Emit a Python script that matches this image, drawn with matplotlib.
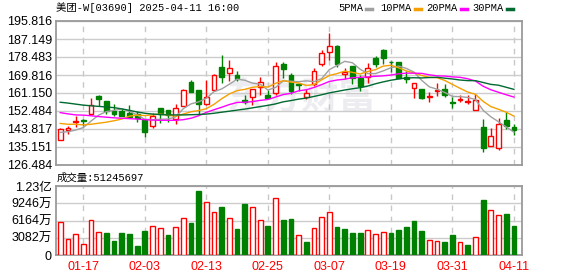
import matplotlib
matplotlib.use('Agg')
import matplotlib.pyplot as plt
from matplotlib.lines import Line2D
import numpy as np

plt.rcParams['font.family'] = ['Liberation Sans', 'Noto Sans CJK SC']

dates = ['01-14', '01-15', '01-16', '01-17', '01-20', '01-21', '01-22', '01-23', '01-24', '01-27',
         '01-28', '02-03', '02-04', '02-05', '02-06', '02-07', '02-10', '02-11', '02-12', '02-13',
         '02-14', '02-17', '02-18', '02-19', '02-20', '02-21', '02-24', '02-25', '02-26', '02-27',
         '02-28', '03-03', '03-04', '03-05', '03-06', '03-07', '03-10', '03-11', '03-12', '03-13',
         '03-14', '03-17', '03-18', '03-19', '03-20', '03-21', '03-24', '03-25', '03-26', '03-27',
         '03-28', '03-31', '04-01', '04-02', '04-03', '04-07', '04-08', '04-09', '04-10', '04-11']

opens = [138.7, 143.4, 147.0, 148.0, 151.2, 159.9, 157.3, 152.5, 152.7, 151.7,
         151.2, 148.1, 145.3, 153.8, 153.0, 148.5, 155.0, 166.3, 162.4, 155.7,
         162.4, 173.8, 170.6, 169.8, 157.6, 159.1, 163.9, 160.2, 161.3, 175.3,
         169.8, 165.5, 159.1, 165.3, 174.9, 180.7, 183.9, 170.5, 174.3, 168.5,
         169.0, 177.8, 181.9, 176.2, 175.9, 169.0, 163.4, 163.1, 159.4, 162.1,
         163.1, 156.6, 157.6, 157.0, 152.8, 144.8, 135.8, 134.8, 148.1, 144.6]
highs = [144.3, 145.3, 150.1, 148.8, 158.6, 160.2, 157.5, 155.8, 153.3, 155.4,
         152.3, 148.3, 151.7, 153.8, 153.0, 155.7, 163.1, 167.2, 162.4, 167.2,
         170.5, 179.4, 177.0, 171.7, 160.2, 163.1, 169.0, 162.6, 176.2, 176.2,
         170.9, 165.8, 163.1, 173.0, 182.0, 190.2, 184.3, 173.0, 174.3, 169.8,
         175.4, 179.1, 182.3, 176.6, 176.0, 171.7, 166.0, 163.1, 161.5, 165.8,
         165.5, 159.2, 160.2, 160.2, 160.8, 148.6, 144.1, 149.0, 151.8, 146.2]
lows = [138.3, 141.6, 144.8, 145.3, 150.7, 155.0, 151.2, 150.1, 149.9, 149.4,
        147.0, 139.9, 144.5, 146.9, 147.0, 146.1, 154.7, 161.5, 151.2, 155.4,
        162.1, 166.1, 167.1, 167.0, 155.7, 155.4, 160.2, 158.6, 160.2, 168.2,
        160.8, 162.1, 158.3, 164.7, 174.3, 177.0, 173.5, 167.7, 165.3, 162.1,
        166.0, 173.8, 174.9, 171.5, 168.2, 165.8, 158.9, 158.3, 157.0, 159.9,
        159.4, 154.1, 156.6, 155.7, 152.8, 132.6, 135.8, 133.7, 143.8, 140.9]
closes = [144.0, 144.1, 147.6, 147.7, 155.2, 158.4, 152.5, 151.0, 150.2, 149.7,
          149.0, 142.5, 150.1, 151.0, 150.6, 153.8, 162.4, 161.8, 155.7, 159.4,
          169.8, 169.0, 173.0, 167.9, 156.6, 163.1, 166.3, 158.9, 174.1, 172.7,
          162.1, 165.0, 161.3, 171.7, 180.2, 183.8, 174.9, 171.4, 168.2, 164.7,
          173.3, 174.9, 177.8, 175.9, 168.5, 167.9, 165.8, 158.6, 159.9, 162.6,
          160.2, 156.2, 158.1, 157.5, 157.6, 134.5, 140.3, 146.2, 145.4, 143.3]

ma5 = [142.2, 142.5, 143.3, 144.5, 147.6, 150.5, 152.2, 152.8, 153.5, 152.4,
       150.5, 148.5, 148.3, 148.5, 148.6, 149.6, 153.6, 155.9, 156.9, 158.6,
       161.8, 163.1, 165.4, 167.8, 167.3, 165.9, 165.4, 162.6, 163.8, 167.0,
       166.8, 166.6, 167.0, 166.6, 168.1, 172.4, 174.4, 176.4, 175.7, 172.6,
       170.5, 170.5, 171.8, 173.3, 174.1, 173.0, 171.2, 167.3, 164.1, 163.0,
       161.4, 159.5, 159.4, 159.0, 158.0, 152.8, 149.7, 147.3, 144.8, 142.3]
ma10 = [146.5, 146.1, 146.1, 145.8, 146.1, 146.6, 147.1, 147.8, 148.6, 150.0,
        150.5, 150.3, 150.6, 151.0, 150.5, 150.0, 151.0, 152.1, 152.7, 153.6,
        155.7, 158.4, 160.7, 162.3, 162.9, 163.9, 164.3, 164.0, 165.8, 167.1,
        166.4, 166.0, 164.8, 165.2, 167.5, 169.6, 170.5, 171.7, 171.1, 170.3,
        171.5, 172.4, 174.1, 174.5, 173.3, 171.8, 170.8, 169.6, 168.7, 168.5,
        167.2, 165.3, 163.4, 161.6, 160.5, 157.1, 154.6, 153.3, 151.9, 150.0]
ma20 = [151.7, 151.1, 150.6, 150.5, 150.2, 149.8, 149.5, 149.2, 149.0, 148.8,
        148.6, 148.3, 148.1, 148.0, 148.0, 148.0, 148.3, 149.0, 150.2, 151.8,
        153.1, 154.3, 155.6, 156.6, 156.7, 157.0, 157.6, 158.0, 159.2, 160.4,
        161.0, 162.2, 162.7, 163.8, 165.2, 166.7, 167.4, 167.8, 168.5, 168.7,
        168.9, 169.2, 169.4, 169.8, 170.4, 170.7, 170.7, 170.6, 169.9, 169.4,
        169.3, 168.9, 168.7, 168.0, 166.9, 164.4, 162.7, 161.5, 160.3, 159.2]
ma30 = [156.7, 156.3, 155.8, 155.3, 155.0, 154.7, 154.4, 154.1, 153.5, 152.8,
        152.0, 151.4, 151.0, 150.8, 150.6, 150.6, 150.6, 150.7, 150.8, 151.0,
        151.4, 151.9, 152.4, 152.9, 153.4, 154.0, 154.6, 155.2, 155.9, 156.9,
        157.5, 158.2, 158.7, 159.5, 160.3, 161.2, 161.9, 162.6, 163.2, 163.7,
        164.5, 165.6, 166.5, 167.3, 167.9, 168.4, 168.5, 168.4, 168.6, 168.7,
        168.3, 167.9, 167.4, 167.1, 167.1, 166.2, 165.3, 164.9, 163.9, 162.9]

# volume in 万股
volume = [5838, 2859, 3693, 1906, 6195, 4051, 3932, 2502, 3932, 3753,
          1608, 4289, 5123, 4766, 3574, 4944, 6553, 5719, 11437, 9412,
          7625, 8578, 6553, 4646, 9114, 8519, 6255, 5183, 10127, 6255,
          6374, 3515, 2323, 4766, 6731, 7625, 5004, 4646, 3932, 3932,
          4468, 3693, 4051, 3932, 4527, 5004, 6136, 4289, 2681, 2502,
          2323, 3574, 2264, 1787, 3157, 9829, 7982, 7089, 7327, 5125]
vol_up = [1, 1, 1, 1, 1, 1, 0, 0, 0, 0,
          0, 0, 1, 1, 0, 1, 1, 0, 0, 1,
          1, 0, 1, 0, 0, 1, 1, 0, 1, 0,
          0, 1, 0, 1, 1, 1, 0, 0, 0, 0,
          1, 1, 1, 0, 0, 0, 0, 0, 1, 1,
          0, 0, 1, 0, 1, 0, 1, 1, 0, 0]

tick_dates = ['01-17', '02-03', '02-13', '02-25', '03-07', '03-19', '03-31', '04-11']
price_ticks = [126.484, 135.151, 143.817, 152.484, 161.150, 169.816, 178.483, 187.149, 195.816]
vol_ticks = [0, 3082, 6164, 9246, 12328]
vol_tick_labels = ['0', '3082万', '6164万', '9246万', '1.23亿']
ma_names = ['5PMA', '10PMA', '20PMA', '30PMA']

RED = '#ff0000'
GREEN = '#008000'
GRID = '#cccccc'
FRAME = '#9a9a9a'
ma_colors = ['#a0a0a0', '#f5a000', '#ff00ff', '#006a30']
MONO = ['Liberation Mono', 'Noto Sans CJK SC']

W, H = 578, 276
fig = plt.figure(figsize=(W / 100, H / 100), dpi=100)
ax1 = fig.add_axes([56 / W, 1 - 165 / H, 466 / W, 144 / H])
ax2 = fig.add_axes([56 / W, 1 - 255 / H, 466 / W, 69 / H])

x = np.arange(len(dates))
o = np.array(opens)
c = np.array(closes)
up = c >= o
edge = np.where(up, RED, GREEN)
face = np.where(up, 'white', GREEN)
tick_idx = [dates.index(d) for d in tick_dates]

# candles
ax1.vlines(x, lows, highs, colors=edge, lw=1, zorder=3)
ax1.bar(x, c - o, bottom=o, width=0.62, color=face, edgecolor=edge, lw=1, zorder=4)
for ma, col in zip([ma5, ma10, ma20, ma30], ma_colors):
    ax1.plot(x, ma, color=col, lw=1, zorder=5)

# watermark
ax1.text(377 / W, 1 - 98 / H, '东方财富', transform=fig.transFigure, ha='right', va='center',
         fontsize=27, fontweight='bold', color='#ededf1', zorder=0.5, family=['Noto Sans CJK SC'])

ax1.set_xlim(-0.55, 60.05)
ax1.set_ylim(126.484, 195.816)
ax1.set_yticks(price_ticks)
ax1.set_yticklabels(['%.3f' % p for p in price_ticks])
ax1.set_xticks(tick_idx)
ax1.tick_params(length=0, labelbottom=False, labelsize=9, pad=3)
ax1.yaxis.grid(True, color=GRID, lw=1, ls='-')
ax1.xaxis.grid(True, color='#c8c8c8', lw=1, ls=(0, (4, 4)))
ax1.set_axisbelow(True)

# volume
vol_face = ['white' if u else GREEN for u in vol_up]
vol_edge = [RED if u else GREEN for u in vol_up]
ax2.bar(x, volume, width=0.62, color=vol_face, edgecolor=vol_edge, lw=1, zorder=3)
ax2.set_xlim(-0.55, 60.05)
ax2.set_ylim(0, 12328)
ax2.set_yticks(vol_ticks)
ax2.set_yticklabels(vol_tick_labels)
ax2.set_xticks(tick_idx)
ax2.set_xticklabels(tick_dates, color=RED, fontsize=8)
ax2.tick_params(length=0, labelsize=9, pad=3)
ax2.tick_params(axis='x', pad=4)
ax2.yaxis.grid(True, color=GRID, lw=1, ls='-')
ax2.xaxis.grid(True, color='#c8c8c8', lw=1, ls=(0, (4, 4)))
ax2.set_axisbelow(True)

for ax in (ax1, ax2):
    for s in ax.spines.values():
        s.set_color(FRAME)
        s.set_linewidth(1.3)

# header texts
fig.text(56 / W, 1 - 8 / H, '美团-W[03690] 2025-04-11 16:00', family=MONO, fontsize=7.5, va='center')
fig.text(57 / W, 1 - 178 / H, '成交量:51245697', family=MONO, fontsize=7.5, va='center')

# legend: name then colored dash
legend_x = [338, 380, 426, 472]
for name, col, lx in zip(ma_names, ma_colors, legend_x):
    fig.text(lx / W, 1 - 8 / H, name, family=MONO, fontsize=7.5, va='center')
    dx = lx + len(name) * 6.3 + 3
    fig.add_artist(Line2D([dx / W, (dx + 6) / W], [1 - 9 / H, 1 - 9 / H], color=col, lw=2.5,
                          transform=fig.transFigure))

fig.savefig('out.png', dpi=100)
plt.close()
